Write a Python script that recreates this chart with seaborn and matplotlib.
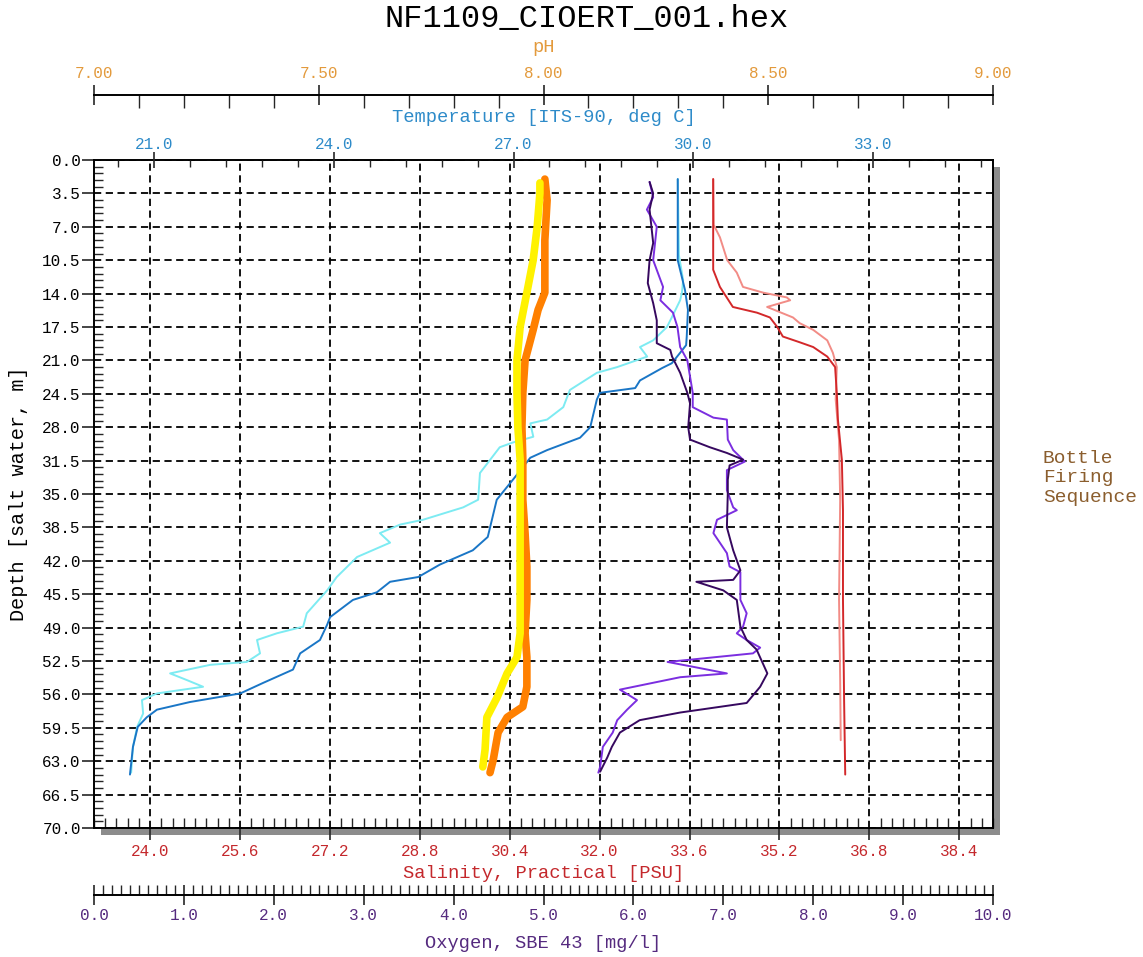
import numpy as np
import seaborn as sns
import matplotlib.pyplot as plt
from matplotlib.ticker import MultipleLocator, FormatStrFormatter
from matplotlib.patches import Rectangle

# CTD cast NF1109_CIOERT_001

# temperature [ITS-90, deg C], two traces
temp_depth_a = [2.0, 10.5, 13.6, 15.7, 18.5, 19.4, 20.2, 21.3, 21.8, 23.1,
                23.9, 24.4, 25.1, 28.0, 29.1, 30.4, 31.2, 33.5, 35.6,
                39.5, 40.9, 42.4, 43.7, 44.2, 45.3, 46.1, 47.9, 48.7, 50.3,
                51.7, 53.4, 54.8, 55.9, 56.8, 57.6, 58.4, 59.4, 61.5, 64.4]
temp_a = [29.74, 29.74, 29.86, 29.91, 29.89, 29.88, 29.78, 29.64, 29.48, 29.11,
          29.03, 28.44, 28.39, 28.28, 28.11, 27.56, 27.28, 26.99, 26.72,
          26.57, 26.32, 25.77, 25.41, 24.94, 24.72, 24.32, 23.94, 23.89, 23.77,
          23.44, 23.32, 22.82, 22.44, 21.60, 21.05, 20.88, 20.73, 20.65, 20.60]

temp_depth_b = [2.0, 10.0, 12.6, 13.9, 14.7, 16.5, 17.5, 18.9, 19.6, 20.6,
                21.7, 22.3, 24.1, 25.9, 27.2, 27.6, 29.0, 29.6, 30.1, 32.8,
                35.6, 36.4, 37.7, 38.2, 39.1, 40.1, 41.6, 43.7, 45.1, 47.5,
                48.9, 49.6, 50.3, 51.7, 52.6, 52.9, 53.8, 54.5, 55.2, 55.9,
                56.6, 58.0, 59.4, 61.5, 64.2]
temp_b = [29.74, 29.76, 29.83, 29.81, 29.78, 29.64, 29.56, 29.33, 29.11, 29.23,
          28.73, 28.39, 27.94, 27.83, 27.56, 27.28, 27.33, 26.99, 26.77, 26.44,
          26.41, 26.16, 25.49, 25.11, 24.77, 24.94, 24.39, 24.05, 23.89, 23.55,
          23.49, 23.05, 22.72, 22.77, 22.55, 21.94, 21.27, 21.55, 21.82, 21.05,
          20.80, 20.82, 20.72, 20.65, 20.62]

# salinity [PSU]
sal_depth_a = [2.0, 11.5, 13.3, 15.4, 16.0, 16.5, 17.5, 18.5, 19.1, 19.6,
               20.6, 21.7, 24.4, 27.2, 31.4, 36.7, 46.1, 56.6, 64.4]
sal_a = [34.02, 34.02, 34.14, 34.37, 34.80, 35.03, 35.16, 35.26, 35.56, 35.80,
         36.05, 36.19, 36.22, 36.24, 36.31, 36.33, 36.33, 36.35, 36.37]

sal_depth_b = [2.0, 6.8, 8.1, 10.5, 11.8, 13.3, 13.9, 14.4, 14.7, 15.4,
               16.5, 17.1, 17.8, 18.9, 20.2, 21.7, 25.1, 29.3, 35.6, 46.1,
               54.5, 60.8]
sal_b = [34.02, 34.03, 34.14, 34.27, 34.44, 34.55, 34.91, 35.33, 35.39, 34.98,
         35.44, 35.56, 35.80, 36.05, 36.15, 36.22, 36.20, 36.26, 36.28, 36.26,
         36.28, 36.29]

# oxygen, SBE 43 [mg/l]
oxy_depth_a = [2.3, 3.5, 5.2, 8.7, 10.5, 12.9, 15.0, 16.8, 19.2, 19.9,
               20.6, 22.3, 24.4, 25.5, 28.0, 29.3, 30.1, 30.7, 31.4, 32.0,
               33.5, 34.9, 38.5, 40.9, 43.0, 44.0, 44.2, 45.1, 46.1, 48.9,
               50.3, 51.3, 53.8, 55.2, 56.9, 57.4, 57.9, 58.7, 60.0, 61.5,
               62.6, 64.1]
oxy_a = [6.18, 6.22, 6.18, 6.22, 6.18, 6.16, 6.22, 6.26, 6.26, 6.41,
         6.43, 6.52, 6.60, 6.63, 6.61, 6.63, 6.85, 7.04, 7.22, 7.07,
         7.05, 7.05, 7.04, 7.11, 7.19, 7.11, 6.70, 7.00, 7.15, 7.19,
         7.26, 7.37, 7.49, 7.41, 7.26, 6.89, 6.52, 6.07, 5.85, 5.76,
         5.71, 5.63]

oxy_depth_b = [2.3, 3.9, 5.2, 7.0, 10.5, 13.3, 14.7, 16.0, 17.5, 19.6,
               21.0, 22.7, 24.4, 25.9, 27.0, 27.2, 29.3, 30.4, 31.6, 32.5,
               34.6, 36.4, 36.7, 37.7, 39.1, 41.2, 42.6, 43.2, 46.1, 47.5,
               48.9, 49.6, 50.3, 51.1, 51.7, 52.6, 53.1, 53.8, 54.2, 55.5,
               56.6, 57.6, 58.7, 60.0, 61.5, 63.6, 64.2]
oxy_b = [6.18, 6.22, 6.15, 6.26, 6.22, 6.33, 6.30, 6.44, 6.49, 6.52,
         6.60, 6.63, 6.66, 6.66, 6.89, 7.04, 7.05, 7.11, 7.24, 7.04,
         7.04, 7.11, 7.15, 6.93, 6.89, 7.04, 7.07, 7.19, 7.19, 7.26,
         7.22, 7.15, 7.26, 7.41, 7.33, 6.38, 6.66, 7.04, 6.52, 5.85,
         6.04, 5.93, 5.82, 5.77, 5.66, 5.63, 5.61]

# pH
ph_depth_a = [2.0, 4.2, 8.4, 13.9, 15.7, 17.8, 21.0, 24.4, 28.0, 31.4,
              35.6, 39.1, 42.6, 46.1, 49.6, 52.1, 55.2, 57.3, 58.4, 60.0,
              62.9, 64.2]
ph_a = [8.003, 8.008, 8.003, 8.003, 7.988, 7.977, 7.959, 7.954, 7.952, 7.954,
        7.954, 7.959, 7.963, 7.963, 7.959, 7.963, 7.963, 7.954, 7.919, 7.899,
        7.888, 7.881]

ph_depth_b = [2.4, 3.5, 7.0, 10.5, 13.9, 17.5, 21.0, 24.4, 28.0, 31.4,
              35.6, 42.6, 49.6, 52.1, 53.8, 56.3, 58.4, 61.8, 63.6]
ph_b = [7.992, 7.992, 7.986, 7.977, 7.963, 7.948, 7.941, 7.941, 7.943, 7.948,
        7.948, 7.948, 7.948, 7.941, 7.919, 7.897, 7.874, 7.870, 7.865]

sns.set_theme(style='white')
plt.rcParams['font.family'] = ['Liberation Mono', 'DejaVu Sans Mono']

c_temp, c_sal, c_ph, c_oxy = '#2E8BC9', '#C4282C', '#E39A3C', '#552A7F'

W, H = 1143, 957
L, R, T, B = 94, 993, 160, 828
fig = plt.figure(figsize=(W / 100, H / 100), dpi=100, facecolor='white')
ax = fig.add_axes([L / W, 1 - B / H, (R - L) / W, (B - T) / H])
ax.set_facecolor('white')

# drop shadow of the plot box
fig.patches.append(Rectangle(((L + 7) / W, 1 - (B + 7) / H), (R - L) / W, (B - T) / H,
                             transform=fig.transFigure, facecolor='#8c8c8c',
                             edgecolor='none', zorder=-5))

ax_t = ax.twiny()
ax_p = ax.twiny()
ax_o = ax.twiny()

sns.lineplot(x=ph_a, y=ph_depth_a, ax=ax_p, color='#FF8000', lw=5.5,
             sort=False, estimator=None)
sns.lineplot(x=ph_b, y=ph_depth_b, ax=ax_p, color='#FFF200', lw=5.5,
             sort=False, estimator=None)
sns.lineplot(x=temp_b, y=temp_depth_b, ax=ax_t, color='#7DEBF2', lw=1.4,
             sort=False, estimator=None)
sns.lineplot(x=temp_a, y=temp_depth_a, ax=ax_t, color='#1A76C6', lw=1.4,
             sort=False, estimator=None)
sns.lineplot(x=sal_b, y=sal_depth_b, ax=ax, color='#F28C86', lw=1.4,
             sort=False, estimator=None)
sns.lineplot(x=sal_a, y=sal_depth_a, ax=ax, color='#D3282A', lw=1.4,
             sort=False, estimator=None)
sns.lineplot(x=oxy_b, y=oxy_depth_b, ax=ax_o, color='#7B2EE0', lw=1.4,
             sort=False, estimator=None)
sns.lineplot(x=oxy_a, y=oxy_depth_a, ax=ax_o, color='#36085F', lw=1.4,
             sort=False, estimator=None)

ax.set_ylim(70, 0)
ax.set_xlim(23, 39)
ax_t.set_xlim(20, 35)
ax_p.set_xlim(7, 9)
ax_o.set_xlim(0, 10)

for a in (ax, ax_t, ax_p, ax_o):
    for s in a.spines.values():
        s.set_color('black')
        s.set_linewidth(1.4)
for s in ('top', 'bottom', 'left', 'right'):
    ax_p.spines[s].set_visible(s == 'top')
    ax_o.spines[s].set_visible(s == 'bottom')
    ax_t.spines[s].set_visible(False)

# depth (left)
ax.yaxis.set_major_locator(MultipleLocator(3.5))
ax.yaxis.set_minor_locator(MultipleLocator(0.7))
ax.yaxis.set_major_formatter(FormatStrFormatter('%.1f'))
ax.tick_params(axis='y', which='major', direction='out', length=8.5, width=1.2,
               left=True, right=False, labelsize=11.5, labelcolor='black', pad=1)
ax.tick_params(axis='y', which='minor', direction='in', length=6.5, width=1.0,
               left=True, right=False)
ax.set_ylabel('Depth [salt water, m]', fontsize=14.5, color='black',
              va='center', ha='center')
ax.yaxis.set_label_coords(-0.0845, 0.5)

# salinity (bottom)
ax.xaxis.set_major_locator(MultipleLocator(1.6))
ax.xaxis.set_minor_locator(MultipleLocator(0.2))
ax.xaxis.set_major_formatter(FormatStrFormatter('%.1f'))
ax.tick_params(axis='x', which='major', direction='out', length=8.5, width=1.2,
               bottom=True, top=False, labelsize=11.5, labelcolor=c_sal, pad=3)
ax.tick_params(axis='x', which='minor', direction='in', length=7, width=1.0,
               bottom=True, top=False)
ax.set_xlabel('Salinity, Practical [PSU]', fontsize=13.5, color=c_sal, va='center')
ax.xaxis.set_label_coords(0.5, -0.0674)

ax.grid(True, which='major', axis='both', color='black', lw=1.3,
        linestyle=(0, (4, 2.5)))
ax.set_axisbelow(True)

# temperature (top of box)
ax_t.xaxis.set_major_locator(MultipleLocator(3))
ax_t.xaxis.set_minor_locator(MultipleLocator(0.6))
ax_t.xaxis.set_major_formatter(FormatStrFormatter('%.1f'))
ax_t.tick_params(axis='x', which='major', direction='inout', length=12, width=1.2,
                 top=True, bottom=False, labelsize=11.5, labelcolor=c_temp, pad=0)
ax_t.tick_params(axis='x', which='minor', direction='in', length=5, width=1.0,
                 top=True, bottom=False)
ax_t.set_xlabel('Temperature [ITS-90, deg C]', fontsize=13.5, color=c_temp, va='center')
ax_t.xaxis.set_label_coords(0.5, 1.0629)
ax_t.set_ylabel('')

# pH (separate axis above)
ax_p.spines['top'].set_position(('outward', 65 * 0.72))
ax_p.xaxis.set_major_locator(MultipleLocator(0.5))
ax_p.xaxis.set_minor_locator(MultipleLocator(0.1))
ax_p.xaxis.set_major_formatter(FormatStrFormatter('%.2f'))
ax_p.tick_params(axis='x', which='major', direction='inout', length=15, width=1.2,
                 top=True, bottom=False, labelsize=11.5, labelcolor=c_ph, pad=2.5)
ax_p.tick_params(axis='x', which='minor', direction='in', length=9, width=1.0,
                 top=True, bottom=False)
ax_p.set_xlabel('pH', fontsize=13.5, color=c_ph, va='center')
ax_p.xaxis.set_label_coords(0.5, 1.1677)
ax_p.set_ylabel('')

# oxygen (separate axis below)
ax_o.xaxis.tick_bottom()
ax_o.xaxis.set_label_position('bottom')
ax_o.spines['bottom'].set_position(('outward', 67 * 0.72))
ax_o.xaxis.set_major_locator(MultipleLocator(1))
ax_o.xaxis.set_minor_locator(MultipleLocator(0.1))
ax_o.xaxis.set_major_formatter(FormatStrFormatter('%.1f'))
ax_o.tick_params(axis='x', which='major', direction='inout', length=15, width=1.2,
                 bottom=True, top=False, labelsize=11.5, labelcolor=c_oxy, pad=1.5)
ax_o.tick_params(axis='x', which='minor', direction='in', length=7.5, width=1.0,
                 bottom=True, top=False)
ax_o.set_xlabel('Oxygen, SBE 43 [mg/l]', fontsize=13.5, color=c_oxy, va='center')
ax_o.xaxis.set_label_coords(0.5, -0.1722)
ax_o.set_ylabel('')

fig.text(587 / W, 1 - 19 / H, 'NF1109_CIOERT_001.hex', fontsize=23,
         ha='center', va='center', color='black')
fig.text(1043 / W, 1 - 478 / H, 'Bottle\nFiring\nSequence', fontsize=14,
         ha='left', va='center', color='#8B5E2E', linespacing=1.2)

fig.savefig('out.png', dpi=100, facecolor='white')
